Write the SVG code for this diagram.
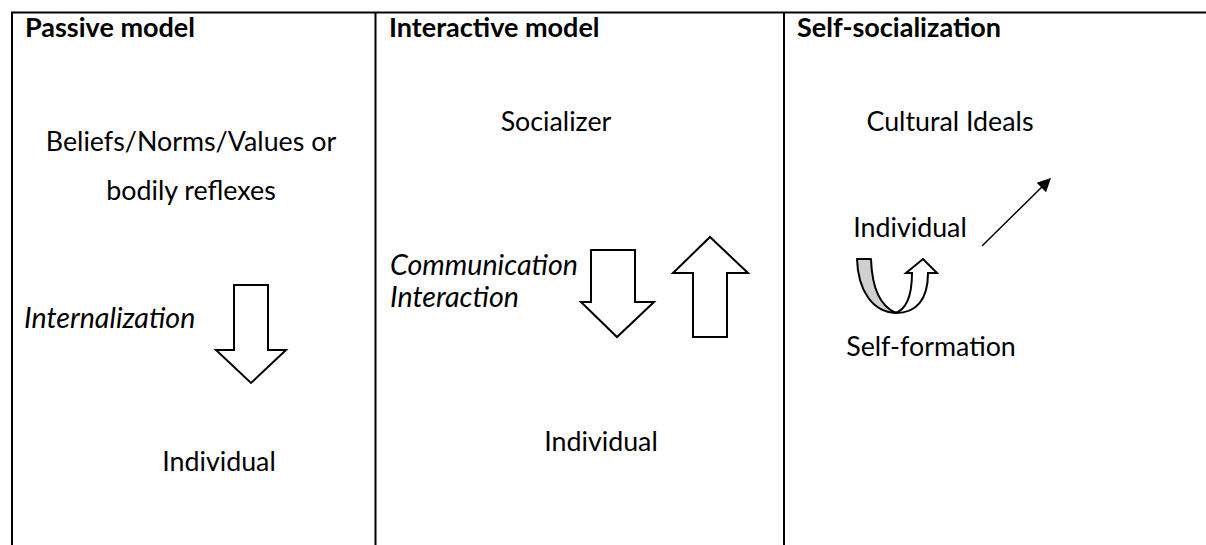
<svg xmlns="http://www.w3.org/2000/svg" width="1206" height="545" viewBox="0 0 1206 545">
  <style>
    text { font-family: Lato, "Liberation Sans", sans-serif; font-size: 26.8px; fill: #000; }
    .head { font-weight: bold; font-size: 27px; }
    .it { font-style: italic; font-size: 28.6px; }
    .rule { stroke: #000; stroke-width: 2; fill: none; }
    .block { fill: #fff; stroke: #000; stroke-width: 2; stroke-linejoin: miter; }
    .line { stroke: #000; stroke-width: 1.5; fill: none; }
  </style>
  <defs>
    <marker id="tri" viewBox="0 0 10 10" refX="9" refY="5" markerWidth="11" markerHeight="9" orient="auto" markerUnits="strokeWidth">
      <path d="M0,0 L10,5 L0,10 Z" fill="#000"/>
    </marker>
  </defs>
  <rect width="1206" height="545" fill="#fff"/>

  <!-- table frame -->
  <g id="frame">
    <line class="rule" x1="11" y1="12.5" x2="1206" y2="12.5"/>
    <line class="rule" x1="12" y1="12" x2="12" y2="545"/>
    <line class="rule" x1="375.5" y1="12" x2="375.5" y2="545"/>
    <line class="rule" x1="784" y1="12" x2="784" y2="545"/>
  </g>

  <!-- column 1: passive model -->
  <g id="passive">
    <text class="head" x="25" y="37">Passive model</text>
    <text x="191" y="151" text-anchor="middle">Beliefs/Norms/Values or</text>
    <text x="191" y="200" text-anchor="middle">bodily reflexes</text>
    <text class="it" x="24" y="328">Internalization</text>
    <text x="219" y="471" text-anchor="middle">Individual</text>
    <path class="block" d="M234,285 L268,285 L268,350 L286,350 L251,383 L216,350 L234,350 Z"/>
  </g>

  <!-- column 2: interactive model -->
  <g id="interactive">
    <text class="head" x="389" y="37">Interactive model</text>
    <text x="556" y="131" text-anchor="middle">Socializer</text>
    <text class="it" x="390" y="275">Communication</text>
    <text class="it" x="390" y="307">Interaction</text>
    <text x="601" y="451" text-anchor="middle">Individual</text>
    <path class="block" d="M591,250 L635,250 L635,302 L654,302 L617,337 L581,302 L591,302 Z"/>
    <path class="block" d="M693,337 L727,337 L727,273 L748,273 L710,237 L673,273 L693,273 Z"/>
  </g>

  <!-- column 3: self-socialization -->
  <g id="self">
    <text class="head" x="797" y="37">Self-socialization</text>
    <text x="950" y="131" text-anchor="middle">Cultural Ideals</text>
    <text x="910" y="237" text-anchor="middle">Individual</text>
    <text x="931" y="356" text-anchor="middle">Self-formation</text>
    <!-- curved up arrow: shaded back band and outlined front limb -->
    <path d="M857,259 L871,259 C872,290 882,307 896,313 C872,312 858,290 857,259 Z" fill="#d0d0d0" stroke="#000" stroke-width="2" stroke-linejoin="round"/>
    <path class="block" d="M894,313 C906,311 912,296 912,273 L906,273 L923,259 L937,273 L928,273 C928,300 916,313 896,313 Z" stroke-linejoin="round"/>
  </g>

  <!-- connectors -->
  <g id="connectors">
    <line class="line" x1="982" y1="246" x2="1050" y2="179" marker-end="url(#tri)"/>
  </g>
</svg>
